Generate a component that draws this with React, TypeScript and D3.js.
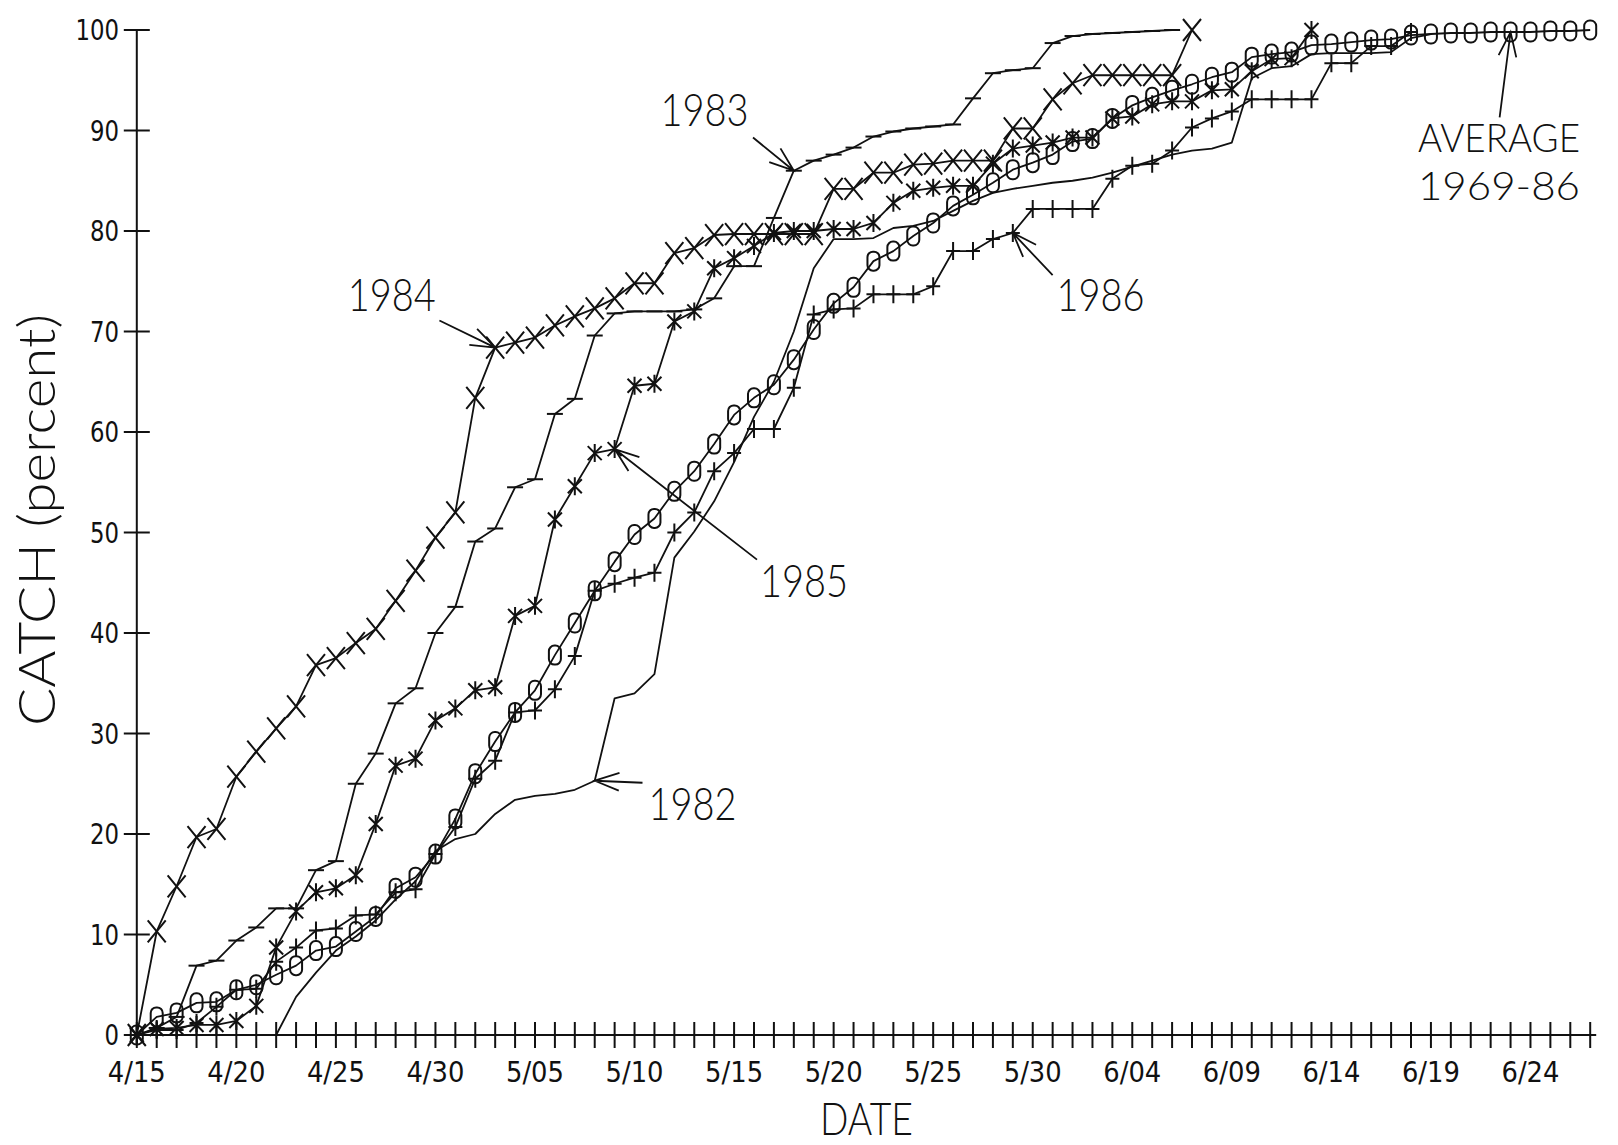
import React from 'react';
import * as d3 from 'd3';

// ---------- data (cumulative catch, percent, one value per day from 4/15) ----------
const dayCount = 74; // 4/15 .. 6/27
const tickLabels = ['4/15', '4/20', '4/25', '4/30', '5/05', '5/10', '5/15', '5/20', '5/25', '5/30', '6/04', '6/09', '6/14', '6/19', '6/24'];
const tickLabelDays = [0, 5, 10, 15, 20, 25, 30, 35, 40, 45, 50, 55, 60, 65, 70];
const yTicks = [0, 10, 20, 30, 40, 50, 60, 70, 80, 90, 100];

const s1982 = [0, 0, 0, 0, 0, 0, 0, 0, 3.8, 6.2, 8.4, 9.8, 11.4, 13.5, 15.3, 18.3,
  19.5, 20, 22, 23.4, 23.8, 24, 24.4, 25.3, 33.5, 34, 35.9, 47.5, 50.1, 53.1, 57, 61.5,
  65, 70, 76.3, 79.2, 79.2, 79.3, 80.3, 80.5, 81, 82, 83, 83.8, 84.2, 84.5, 84.8, 85,
  85.3, 85.8, 86.4, 87, 87.6, 88, 88.2, 88.8, 95.2, 96.2, 96.4, 97.6, 97.7, 97.7, 97.7, 97.8,
  99.2, 99.6];
const s1983 = [0, 0.7, 1.8, 6.9, 7.4, 9.4, 10.7, 12.6, 12.6, 16.4, 17.3, 25, 28, 33, 34.5, 40,
  42.6, 49.1, 50.4, 54.5, 55.3, 61.8, 63.3, 69.6, 71.8, 72, 72, 72, 72.2, 73.3, 76.5, 76.5,
  81.3, 86, 87, 87.6, 88.3, 89.4, 89.9, 90.2, 90.4, 90.6, 93.2, 95.7, 96, 96.2, 98.7, 99.4,
  99.6, 99.7, 99.8, 99.9, 100];
const s1984 = [0, 10.3, 14.8, 19.7, 20.5, 25.7, 28.2, 30.5, 32.7, 36.8, 37.5, 39, 40.4, 43.2, 46.2, 49.5,
  52, 63.4, 68.4, 68.9, 69.4, 70.6, 71.5, 72.3, 73.3, 74.8, 74.8, 77.8, 78.3, 79.6, 79.7, 79.7,
  79.7, 79.7, 79.7, 84.2, 84.2, 85.8, 85.8, 86.6, 86.7, 87, 87, 87, 90.2, 90.2, 93.1, 94.7,
  95.5, 95.5, 95.5, 95.5, 95.5, 100];
const s1985 = [0, 0.6, 0.7, 1, 1, 1.4, 2.9, 8.7, 12.3, 14.2, 14.6, 15.9, 21, 26.8, 27.5, 31.3,
  32.5, 34.3, 34.6, 41.7, 42.7, 51.3, 54.6, 57.9, 58.3, 64.6, 64.8, 71, 72, 76.3, 77.3, 78.5,
  79.8, 80, 80, 80.2, 80.2, 80.8, 82.8, 84, 84.3, 84.5, 84.5, 86.7, 88.2, 88.5, 88.8, 89.3,
  89.3, 91.2, 91.4, 92.6, 92.9, 92.9, 94, 94.1, 95.9, 97.1, 97.2, 100];
const s1986 = [0, 0.5, 0.5, 1.2, 2.8, 4.5, 4.6, 7.3, 8.7, 10.4, 10.6, 11.9, 12, 14.2, 14.5, 18,
  20.7, 25.5, 27.3, 32.1, 32.3, 34.4, 37.7, 44.2, 44.9, 45.5, 46, 50, 52, 56.1, 57.9, 60.3,
  60.3, 64.4, 71.7, 72.2, 72.3, 73.7, 73.7, 73.7, 74.5, 78, 78, 79.2, 79.8, 82.2, 82.2, 82.2,
  82.2, 85.2, 86.5, 86.7, 88, 90.3, 91.2, 91.9, 93.1, 93.1, 93.1, 93.1, 96.7, 96.7, 98.4, 98.4,
  99.8];
const sAverage = [0, 1.8, 2.2, 3.2, 3.3, 4.5, 5, 6, 6.9, 8.4, 8.8, 10.3, 11.8, 14.6, 15.7, 18,
  21.5, 26, 29.2, 32.1, 34.3, 37.8, 41, 44.2, 47.1, 49.8, 51.4, 54.1, 56.1, 58.8, 61.7, 63.4,
  64.7, 67.2, 70.2, 72.8, 74.4, 77, 78, 79.5, 80.8, 82.5, 83.6, 84.8, 86.1, 86.8, 87.6, 88.9,
  89.2, 91.2, 92.5, 93.3, 94, 94.6, 95.3, 95.8, 97.3, 97.6, 97.8, 98.5, 98.6, 98.8, 99, 99.1,
  99.5, 99.6, 99.7, 99.7, 99.8, 99.8, 99.8, 99.9, 99.9, 100];

const seriesList = [
  { name: '1982', values: s1982, marker: 'none' },
  { name: '1983', values: s1983, marker: 'dash' },
  { name: '1984', values: s1984, marker: 'x' },
  { name: '1985', values: s1985, marker: 'star' },
  { name: '1986', values: s1986, marker: 'plus' },
  { name: 'avg', values: sAverage, marker: 'zero' },
];

// annotation labels (data coordinates: day, percent)
const annotations = [
  { lines: ['1983'], series: '1983', tipDay: 33, textDay: 26.3, textVal: 90.4, fromDay: 30.95, fromVal: 89.3 },
  { lines: ['1984'], series: '1984', tipDay: 18, textDay: 10.6, textVal: 72.0, fromDay: 15.2, fromVal: 71.1 },
  { lines: ['1985'], series: '1985', tipDay: 24, textDay: 31.3, textVal: 43.6, fromDay: 31.15, fromVal: 47.3 },
  { lines: ['1986'], series: '1986', tipDay: 44, textDay: 46.2, textVal: 72.0, fromDay: 46.0, fromVal: 75.6 },
  { lines: ['1982'], series: '1982', tipDay: 23, textDay: 25.7, textVal: 21.4, fromDay: 25.4, fromVal: 25.1 },
  { lines: ['AVERAGE', '1969-86'], series: 'avg', tipDay: 69, textDay: 64.35, textVal: 87.9, fromDay: 68.45, fromVal: 91.3 },
];

const INK = '#111';

function markerPath(type: string): string {
  switch (type) {
    case 'x': return 'M-9,-11L9,11M-9,11L9,-11';
    case 'star': return 'M-7,-7L7,7M-7,7L7,-7M0,-9L0,9';
    case 'plus': return 'M-7,0L7,0M0,-9L0,9';
    case 'dash': return 'M-8,0L8,0';
    default: return '';
  }
}

export default function App() {
  const x = d3.scaleLinear().domain([0, dayCount - 1]).range([136.8, 1590.2]);
  const y = d3.scaleLinear().domain([0, 100]).range([1035, 30]);
  const line = d3.line<number>().x((_, i) => x(i)).y((d) => y(d));
  const axisDays = d3.range(dayCount);

  const byName: Record<string, number[]> = {};
  seriesList.forEach((s) => { byName[s.name] = s.values; });

  return (
    <svg width={1618} height={1145} style={{ position: 'absolute', left: 0, top: 0, background: '#fff' }}>
      <rect x={0} y={0} width={1618} height={1145} fill="#fff" />
      {/* axes */}
      <g stroke={INK} strokeWidth={2} fill="none">
        <line x1={x(0)} y1={y(0)} x2={x(dayCount - 1) + 6} y2={y(0)} />
        <line x1={x(0)} y1={y(0)} x2={x(0)} y2={y(100)} />
        {axisDays.map((d) => (
          <line key={'xt' + d} x1={x(d)} x2={x(d)} y1={y(0) - 13} y2={y(0) + 13} />
        ))}
        {yTicks.map((v) => (
          <line key={'yt' + v} x1={x(0) - 13} x2={x(0) + 13} y1={y(v)} y2={y(v)} />
        ))}
      </g>
      <g fill={INK} fontFamily="'DejaVu Sans', sans-serif" fontSize={29}>
        {tickLabels.map((t, i) => (
          <text key={'xl' + t} x={x(tickLabelDays[i])} y={1082} textAnchor="middle"
            textLength={58} lengthAdjust="spacingAndGlyphs">{t}</text>
        ))}
        {yTicks.map((v) => (
          <text key={'yl' + v} x={119} y={y(v) + 10} textAnchor="end"
            textLength={String(v).length * 14.5} lengthAdjust="spacingAndGlyphs">{String(v)}</text>
        ))}
      </g>
      {/* axis titles */}
      <text x={820} y={1135} fontFamily="Lato, 'DejaVu Sans', sans-serif" fontWeight={300} fontSize={46}
        fill={INK} textLength={93} lengthAdjust="spacingAndGlyphs">DATE</text>
      <text transform="translate(55,520) rotate(-90)" textAnchor="middle" fontFamily="Lato, 'DejaVu Sans', sans-serif"
        fontWeight={300} fontSize={52} fill={INK} textLength={412} lengthAdjust="spacingAndGlyphs">CATCH (percent)</text>

      {/* series lines */}
      <g fill="none" stroke={INK} strokeWidth={1.8} strokeLinejoin="round">
        {seriesList.map((s) => (
          <path key={'l' + s.name} d={line(s.values) || ''} />
        ))}
      </g>
      {/* markers */}
      {seriesList.map((s) => (
        <g key={'m' + s.name} stroke={INK} strokeWidth={2} fill="none">
          {s.marker === 'none' ? null : s.values.map((v, i) => (
            s.marker === 'zero' ? (
              <rect key={i} x={x(i) - 6} y={y(v) - 9.5} width={12} height={19} rx={5.5} ry={5.5} />
            ) : (
              <path key={i} transform={`translate(${x(i)},${y(v)})`} d={markerPath(s.marker)} />
            )
          ))}
        </g>
      ))}

      {/* annotations */}
      {annotations.map((a) => {
        const vals = byName[a.series];
        const tx = x(a.tipDay), ty = y(vals[a.tipDay]);
        const sx = x(a.fromDay), sy = y(a.fromVal);
        const len = Math.hypot(sx - tx, sy - ty);
        const ux = (sx - tx) / len, uy = (sy - ty) / len;
        const ang = (20 * Math.PI) / 180;
        const bl = 26;
        const b1x = tx + bl * (ux * Math.cos(ang) - uy * Math.sin(ang));
        const b1y = ty + bl * (ux * Math.sin(ang) + uy * Math.cos(ang));
        const b2x = tx + bl * (ux * Math.cos(-ang) - uy * Math.sin(-ang));
        const b2y = ty + bl * (ux * Math.sin(-ang) + uy * Math.cos(-ang));
        const multi = a.lines.length > 1;
        return (
          <g key={'a' + a.lines[0]}>
            <path d={`M${sx},${sy}L${tx},${ty}M${b1x},${b1y}L${tx},${ty}L${b2x},${b2y}`}
              stroke={INK} strokeWidth={1.8} fill="none" />
            {a.lines.map((ln, k) => (
              <text key={ln} x={x(a.textDay)} y={y(a.textVal) + k * 48}
                fontFamily="Lato, 'DejaVu Sans', sans-serif" fontWeight={300} fontSize={multi ? 40 : 45} fill={INK}
                textLength={ln.length === 4 ? 88 : 162} lengthAdjust="spacingAndGlyphs">{ln}</text>
            ))}
          </g>
        );
      })}
    </svg>
  );
}
